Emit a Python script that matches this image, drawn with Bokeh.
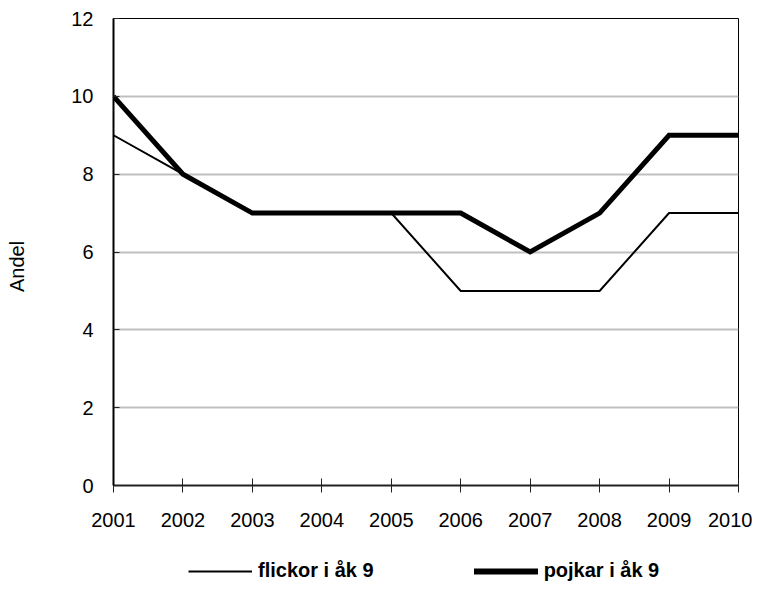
import math
from bokeh.plotting import figure
from bokeh.layouts import row, column
from bokeh.models import FixedTicker, Legend, LegendItem, Label, Range1d
from bokeh.embed import file_html
from bokeh.resources import INLINE

years = [2001, 2002, 2003, 2004, 2005, 2006, 2007, 2008, 2009, 2010]
flickor = [9, 8, 7, 7, 7, 5, 5, 5, 7, 7]
pojkar = [10, 8, 7, 7, 7, 7, 6, 7, 9, 9]
y_ticks = [0, 2, 4, 6, 8, 10, 12]
series_names = ["flickor i åk 9", "pojkar i åk 9"]
y_label = "Andel"

FONT = "Liberation Sans"
TOP_H = 560
LEG_H = 44


def blank(width, height):
    f = figure(width=width, height=height, output_backend="svg", toolbar_location=None,
               x_range=Range1d(0, 1), y_range=Range1d(0, 1),
               x_axis_location=None, y_axis_location=None,
               min_border=0, min_border_left=0, min_border_right=0,
               min_border_top=0, min_border_bottom=0)
    f.grid.visible = False
    f.outline_line_color = None
    f.background_fill_color = "white"
    f.border_fill_color = "white"
    return f


# narrow strip carrying the rotated y-axis title
lf = blank(30, TOP_H)
lf.add_layout(Label(x=16, y=219, x_units="screen", y_units="screen",
                    text=y_label, angle=math.pi / 2, text_align="center",
                    text_baseline="middle", text_font=FONT,
                    text_font_size="20px", text_color="black"))

p = figure(width=722, height=TOP_H, output_backend="svg", toolbar_location=None,
           x_range=Range1d(2001, 2010), y_range=Range1d(0, 12),
           min_border_left=83, min_border_right=14, min_border_top=18,
           min_border_bottom=75)
p.background_fill_color = "white"
p.border_fill_color = "white"
p.outline_line_color = "black"
p.outline_line_width = 1

p.xgrid.visible = False
p.ygrid.ticker = FixedTicker(ticks=y_ticks)
p.ygrid.grid_line_color = "#c0c0c0"
p.ygrid.grid_line_width = 2

p.xaxis.ticker = FixedTicker(ticks=years)
p.xaxis.major_tick_in = 7
p.xaxis.major_tick_out = 7
p.xaxis.minor_tick_line_color = None
p.xaxis.axis_line_width = 2
p.xaxis.axis_line_color = "#222222"
p.xaxis.major_tick_line_color = "#222222"
p.xaxis.major_label_standoff = 20
p.xaxis.major_label_text_font = FONT
p.xaxis.major_label_text_font_size = "20px"
p.xaxis.major_label_text_color = "black"

p.yaxis.ticker = FixedTicker(ticks=y_ticks)
p.yaxis.major_tick_in = 6
p.yaxis.major_tick_out = 0
p.yaxis.minor_tick_line_color = None
p.yaxis.axis_line_width = 2
p.yaxis.axis_line_color = "black"
p.yaxis.major_tick_line_color = "#222222"
p.yaxis.major_label_standoff = 20
p.yaxis.major_label_text_font = FONT
p.yaxis.major_label_text_font_size = "20px"
p.yaxis.major_label_text_color = "black"

p.line(years, flickor, line_color="black", line_width=2, line_join="miter")
p.line(years, pojkar, line_color="black", line_width=5, line_join="miter")

# legend strip below the chart: the series lie outside this strip's ranges,
# so only their legend samples show
lg = blank(752, LEG_H)
s1 = lg.line(years, flickor, line_color="black", line_width=2)
s2 = lg.line(years, pojkar, line_color="black", line_width=6, line_cap="round")
legend = Legend(items=[LegendItem(label=series_names[0], renderers=[s1]),
                       LegendItem(label=series_names[1], renderers=[s2])],
                orientation="horizontal", location=(188, 22),
                glyph_width=64, glyph_height=20, label_standoff=6, spacing=100,
                padding=0, margin=0, border_line_color=None,
                background_fill_alpha=0,
                label_text_font=FONT, label_text_font_size="20px",
                label_text_font_style="bold", label_text_color="black")
lg.add_layout(legend, "center")

layout = column(row(lf, p), lg)
open("out.html", "w").write(file_html(layout, INLINE))
